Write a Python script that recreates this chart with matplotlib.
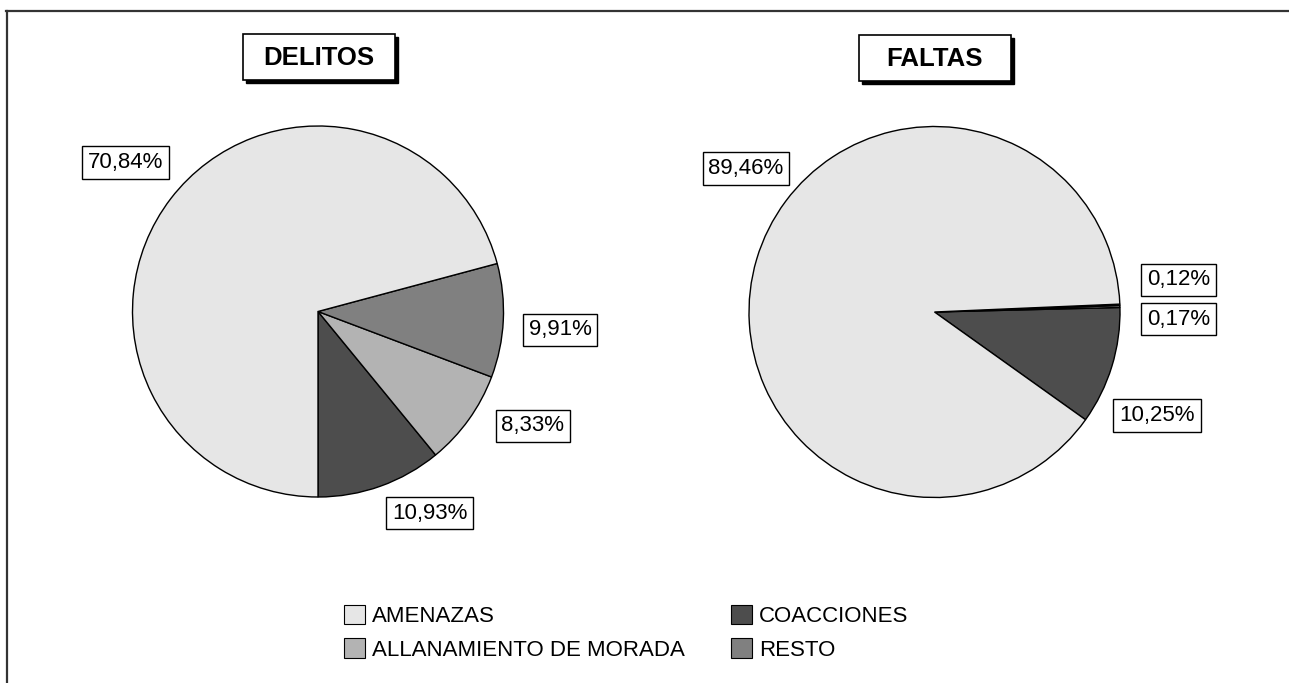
import matplotlib
matplotlib.use("Agg")
import matplotlib.pyplot as plt
from matplotlib.patches import Rectangle, Patch
from matplotlib.lines import Line2D

# slice order runs counterclockwise from the start angle
categories = ['COACCIONES', 'ALLANAMIENTO DE MORADA', 'RESTO', 'AMENAZAS']
delitos_pct = [10.93, 8.33, 9.91, 70.84]
faltas_pct = [10.25, 0.17, 0.12, 89.46]
titles = ['DELITOS', 'FALTAS']
legend_order = ['AMENAZAS', 'ALLANAMIENTO DE MORADA', 'COACCIONES', 'RESTO']

colors = {
    'AMENAZAS': '#e6e6e6',
    'ALLANAMIENTO DE MORADA': '#b3b3b3',
    'RESTO': '#808080',
    'COACCIONES': '#4d4d4d',
}

W, H = 1289, 683
plt.rcParams['font.family'] = ['Liberation Sans', 'DejaVu Sans']

fig = plt.figure(figsize=(W / 100, H / 100), dpi=100)
ax = fig.add_axes([0, 0, 1, 1])


def py(y):
    # pixel row (from top) -> data y
    return H - y


def fmt(v):
    return f"{v:.2f}".replace('.', ',') + '%'


pies = [
    dict(values=delitos_pct, center=(318, 311.5), start=-90,
         label_pos=[(429.5, 513), (533, 426), (560, 330), (125.5, 162.5)],
         title_center=(319, 57)),
    dict(values=faltas_pct, center=(934.5, 312), start=-35.5,
         label_pos=[(1157, 415.5), (1178.5, 319), (1178.5, 280), (746, 168.5)],
         title_center=(934.5, 57.5)),
]
radius = 185.5

for p, title in zip(pies, titles):
    cx, cy = p['center']
    ax.pie(p['values'], colors=[colors[c] for c in categories],
           startangle=p['start'], counterclock=True,
           center=(cx, py(cy)), radius=radius, frame=True,
           wedgeprops=dict(edgecolor='black', linewidth=1.0))
    for v, (lx, ly) in zip(p['values'], p['label_pos']):
        ax.text(lx, py(ly), fmt(v), ha='center', va='center', fontsize=16,
                bbox=dict(boxstyle='square,pad=0.26', facecolor='white',
                          edgecolor='black', linewidth=1.0))
    # title box with drop shadow
    tx, ty = p['title_center']
    bw, bh = 152, 46
    ax.add_patch(Rectangle((tx - bw / 2 + 3, py(ty + bh / 2 + 3)), bw, bh,
                           facecolor='black', edgecolor='black', zorder=5))
    ax.add_patch(Rectangle((tx - bw / 2, py(ty + bh / 2)), bw, bh,
                           facecolor='white', edgecolor='black', linewidth=1.2, zorder=6))
    ax.text(tx, py(ty + 1), title, ha='center', va='center', fontsize=18.5,
            fontweight='bold', zorder=7)

# outer frame (top and left edges only)
ax.add_line(Line2D([6, W], [py(11), py(11)], color='#333333', linewidth=1.6))
ax.add_line(Line2D([6.5, 6.5], [py(11), 0], color='#333333', linewidth=1.6))

ax.set_xlim(0, W)
ax.set_ylim(0, H)
ax.set_aspect('equal')
ax.axis('off')

handles = [Patch(facecolor=colors[c], edgecolor='black', linewidth=0.8, label=c)
           for c in legend_order]
fig.legend(handles=handles, loc='upper left', bbox_to_anchor=(344 / W, 1 - 605 / H),
           ncol=2, frameon=False, fontsize=16, borderpad=0, borderaxespad=0,
           handlelength=0.95, handleheight=0.95, handletextpad=0.3,
           columnspacing=2.1, labelspacing=0.5)

fig.savefig('out.png', dpi=100)
